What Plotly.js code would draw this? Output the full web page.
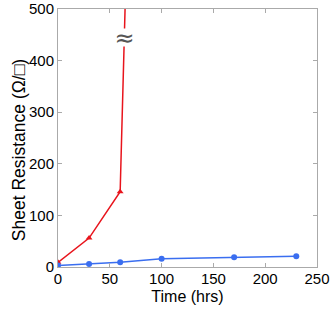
<!DOCTYPE html>
<html><head><meta charset="utf-8">
<script src="https://cdn.plot.ly/plotly-3.0.1.min.js"></script>
<style>html,body{margin:0;padding:0;background:#fff}#chart{width:331px;height:311px}</style>
</head><body><div id="chart"></div>
<script>
const redTime = [0, 30, 60, 65];
const redRes = [9, 56, 146, 520];
const blueTime = [0, 30, 60, 100, 170, 230];
const blueRes = [3, 6, 9, 16, 19, 21];
const xTicks = [0, 50, 100, 150, 200, 250];
const yTicks = [0, 100, 200, 300, 400, 500];
const breakX = 64.6;
const breakY = 445;

const FONT = 'Liberation Sans, Arial, Helvetica, sans-serif';
const traces = [
  {x: redTime, y: redRes, mode: 'lines+markers', line: {color: '#e8141c', width: 1.5},
   marker: {symbol: 'triangle-up', size: 6, color: '#e8141c'}},
  {x: blueTime, y: blueRes, mode: 'lines+markers', line: {color: '#3a6ef0', width: 1.5},
   marker: {symbol: 'circle', size: 6, color: '#3a6ef0'}}
];
const axisCommon = {showgrid: false, zeroline: false, showline: true, linecolor: '#aaaaaa', linewidth: 1,
  mirror: 'ticks', ticks: 'inside', ticklen: 4, tickcolor: '#aaaaaa',
  tickfont: {family: FONT, size: 15, color: '#000'}};
const annotations = [
  {x: breakX, y: breakY, text: '≈', showarrow: false, xref: 'x', yref: 'y',
   font: {family: 'DejaVu Sans, sans-serif', size: 24, color: '#555'},
   bgcolor: '#ffffff', borderpad: 0, width: 17, height: 17, valign: 'middle'},
  {xref: 'paper', yref: 'paper', x: 0, y: 0.453, xshift: -51, textangle: -90,
   text: 'Sheet Resistance (Ω/□)', showarrow: false, font: {family: FONT, size: 17.5, color: '#000'}}
];
const layout = {
  width: 331, height: 311, margin: {l: 58, r: 14, t: 9, b: 44},
  paper_bgcolor: '#fff', plot_bgcolor: '#fff', showlegend: false,
  font: {family: FONT, color: '#000'},
  xaxis: Object.assign({}, axisCommon, {range: [0, 250], tickvals: xTicks, ticklabelstandoff: -2,
    title: {text: 'Time (hrs)', font: {size: 16}, standoff: 4}}),
  yaxis: Object.assign({}, axisCommon, {range: [0, 500], tickvals: yTicks}),
  annotations: annotations
};
Plotly.newPlot('chart', traces, layout, {displayModeBar: false, staticPlot: true});
</script></body></html>
